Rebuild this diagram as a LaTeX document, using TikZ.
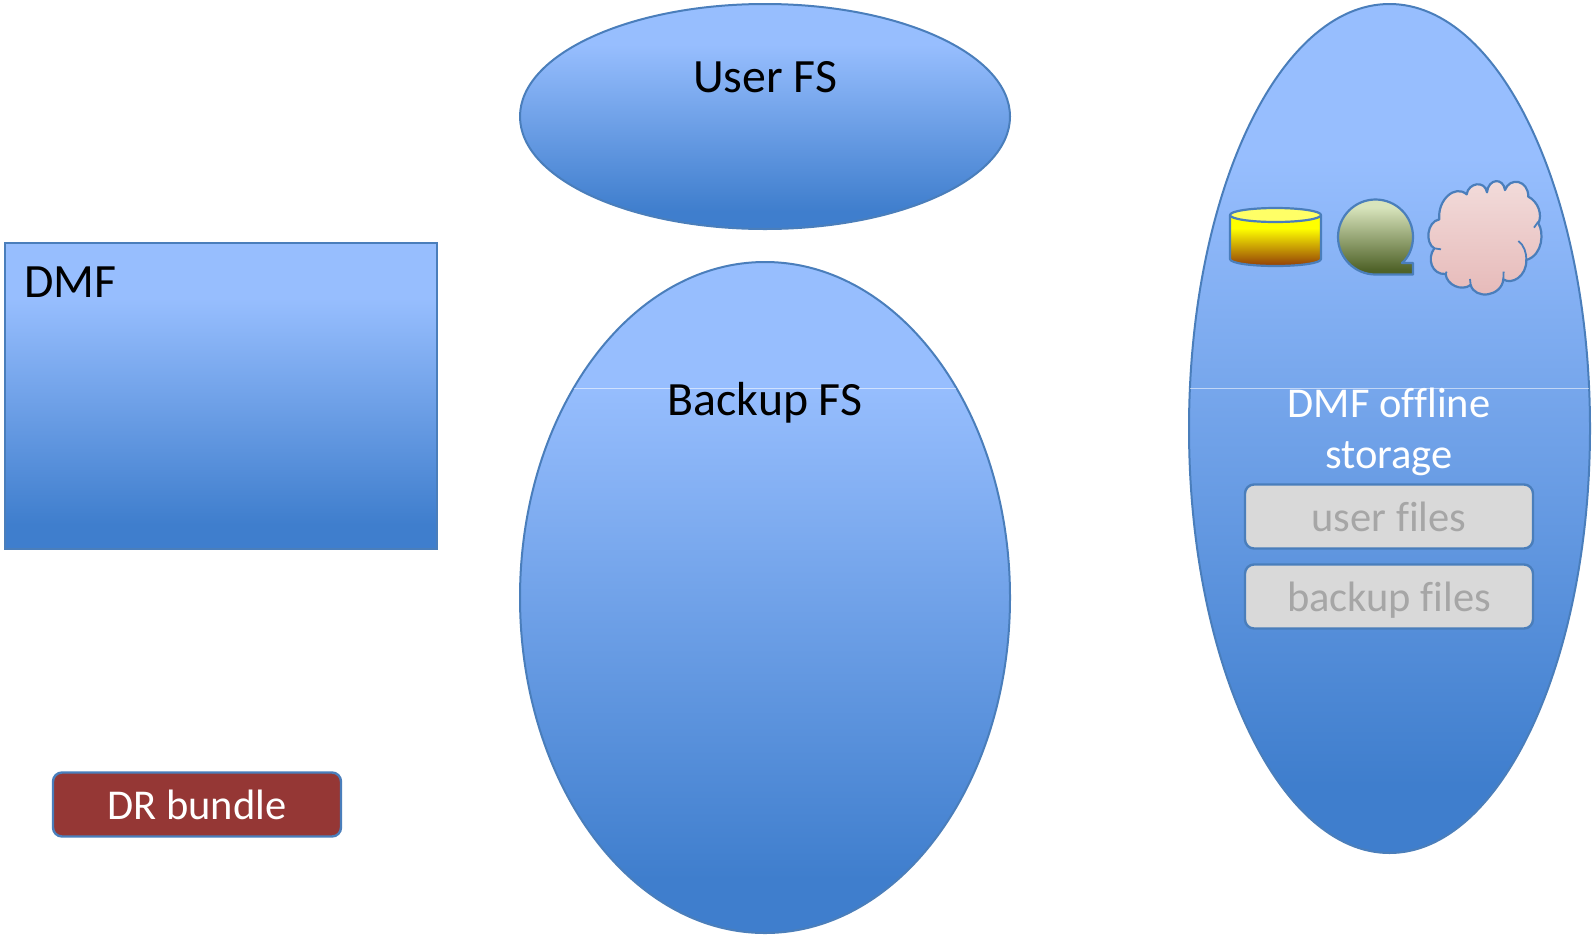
\documentclass[tikz,border=0pt]{standalone}
\usepackage{fontspec}
\setmainfont[Ligatures=NoCommon]{Carlito}
\usetikzlibrary{shapes.geometric}
\definecolor{edgeblue}{HTML}{4A7EBB}
\definecolor{gradtop}{HTML}{97BEFE}
\definecolor{graddark}{HTML}{3F7ECD}
\definecolor{boxgrey}{HTML}{D9D9D9}
\definecolor{boxtext}{HTML}{A6A6A6}
\definecolor{drred}{HTML}{953735}
\definecolor{bubbletop}{HTML}{D8E4BC}
\definecolor{bubblebot}{HTML}{4F6228}
\definecolor{cloudtop}{HTML}{F2DCDB}
\definecolor{cloudbot}{HTML}{E6B9B8}
\definecolor{cylbot}{HTML}{984807}
\definecolor{cyllid}{HTML}{FFFF66}
\pgfdeclareverticalshading{officeblue}{100bp}{color(0bp)=(graddark);color(29bp)=(graddark);color(66bp)=(gradtop);color(100bp)=(gradtop)}
\pgfdeclareverticalshading{cylshade}{100bp}{color(0bp)=(cylbot);color(27bp)=(cylbot);color(62bp)=(yellow);color(100bp)=(yellow)}
\pgfdeclareverticalshading{bubbleshade}{100bp}{color(0bp)=(bubblebot);color(28bp)=(bubblebot);color(70bp)=(bubbletop);color(100bp)=(bubbletop)}
\tikzset{
  x=1pt,y=-1pt,
  bluefill/.style={draw=edgeblue,line width=2pt,shading=officeblue,inner sep=0pt,outer sep=0pt},
  smallshape/.style={draw=edgeblue,line width=2.2pt,line join=round},
  capbox/.style={rectangle,rounded corners=9pt,draw=edgeblue,line width=2.4pt,inner sep=0pt,text height=30pt,text depth=0pt,font=\fontsize{42.5}{42.5}\selectfont},
  greybox/.style={capbox,fill=boxgrey,text=boxtext,minimum width=288pt,minimum height=64pt},
  bigtext/.style={anchor=base,inner sep=0pt,text=black,font=\fontsize{47.8}{48}\selectfont},
  whitetext/.style={anchor=base,inner sep=0pt,text=white,font=\fontsize{42.5}{42.5}\selectfont},
  seam/.style={draw=white,draw opacity=.55,line width=1pt},
}
\begin{document}
\begin{tikzpicture}
\useasboundingbox (0,0) rectangle (1592,935);
% main shapes
\node[bluefill,ellipse,minimum width=490pt,minimum height=225pt] (userfs) at (765,116.5) {};
\node[bluefill,ellipse,minimum width=490pt,minimum height=671pt] (backupfs) at (765,597.5) {};
\node[bluefill,ellipse,minimum width=401pt,minimum height=849pt] (offline) at (1389.5,428.5) {};
\node[bluefill,rectangle,minimum width=432pt,minimum height=306pt] (dmf) at (221.3,396) {};
% seams in the gradients
\draw[seam] (574,388) -- (956,388);
\draw[seam] (1190,388) -- (1589,388);
% labels
\node[bigtext] (userlabel) at (765,92.5) {User FS};
\node[bigtext] (backuplabel) at (765,415) {Backup FS};
\node[bigtext,anchor=base west] (dmflabel) at (24.4,297.5) {DMF};
\node[whitetext] (offlineA) at (1389,417.5) {DMF offline};
\node[whitetext] (offlineB) at (1389,468.5) {storage};
% boxes
\node[greybox] (userfiles) at (1389,516.5) {user files};
\node[greybox] (backupfiles) at (1389,596.5) {backup files};
\node[capbox,fill=drred,text=white,minimum width=288pt,minimum height=64pt] (drbundle) at (197,804.5) {DR bundle};
% cylinder
\draw[smallshape,shading=cylshade] (1230,215) -- (1230,259) .. controls (1230,263) and (1250,266) .. (1275.5,266)
  .. controls (1301,266) and (1321,263) .. (1321,259) -- (1321,215) -- cycle;
\draw[smallshape,fill=cyllid] (1275.5,215) ellipse [x radius=45.5pt,y radius=7pt];
% speech bubble
\draw[smallshape,shading=bubbleshade]
  (1402,263) -- (1413,263) -- (1413,274.5) -- (1375.5,274.5)
  .. controls (1354.8,274.5) and (1338,257.7) .. (1338,237)
  .. controls (1338,216.3) and (1354.8,199.5) .. (1375.5,199.5)
  .. controls (1396.2,199.5) and (1413,216.3) .. (1413,237)
  .. controls (1413,247) and (1409,257) .. (1402,263) -- cycle;
% cloud
\begin{scope}[shift={(1180pt,-160pt)},x=.3333pt,y=-.3333pt]
\draw[smallshape,top color=cloudtop,bottom color=cloudbot]
  (778,178) .. controls (772,120) and (825,72) .. (860,103)
  .. controls (865,68) and (915,60) .. (921,97)
  .. controls (925,55) and (970,52) .. (975,90)
  .. controls (990,50) and (1045,60) .. (1045,110)
  .. controls (1075,125) and (1088,165) .. (1075,190)
  .. controls (1092,215) and (1090,285) .. (1039,300)
  .. controls (1040,350) and (995,375) .. (970,358)
  .. controls (965,410) and (885,420) .. (872,375)
  .. controls (845,395) and (800,375) .. (797,342)
  .. controls (755,345) and (740,295) .. (763,265)
  .. controls (735,250) and (740,185) .. (778,178) -- cycle;
\draw[smallshape,line width=1.8pt]
  (1015,243) .. controls (1032,255) and (1040,280) .. (1039,300)
  (1075,185) -- (1062,203)
  (763,265) -- (783,268)
  (797,342) -- (800,335)
  (870,357) -- (872,375)
  (971,335) -- (970,358);
\end{scope}
\end{tikzpicture}
\end{document}
